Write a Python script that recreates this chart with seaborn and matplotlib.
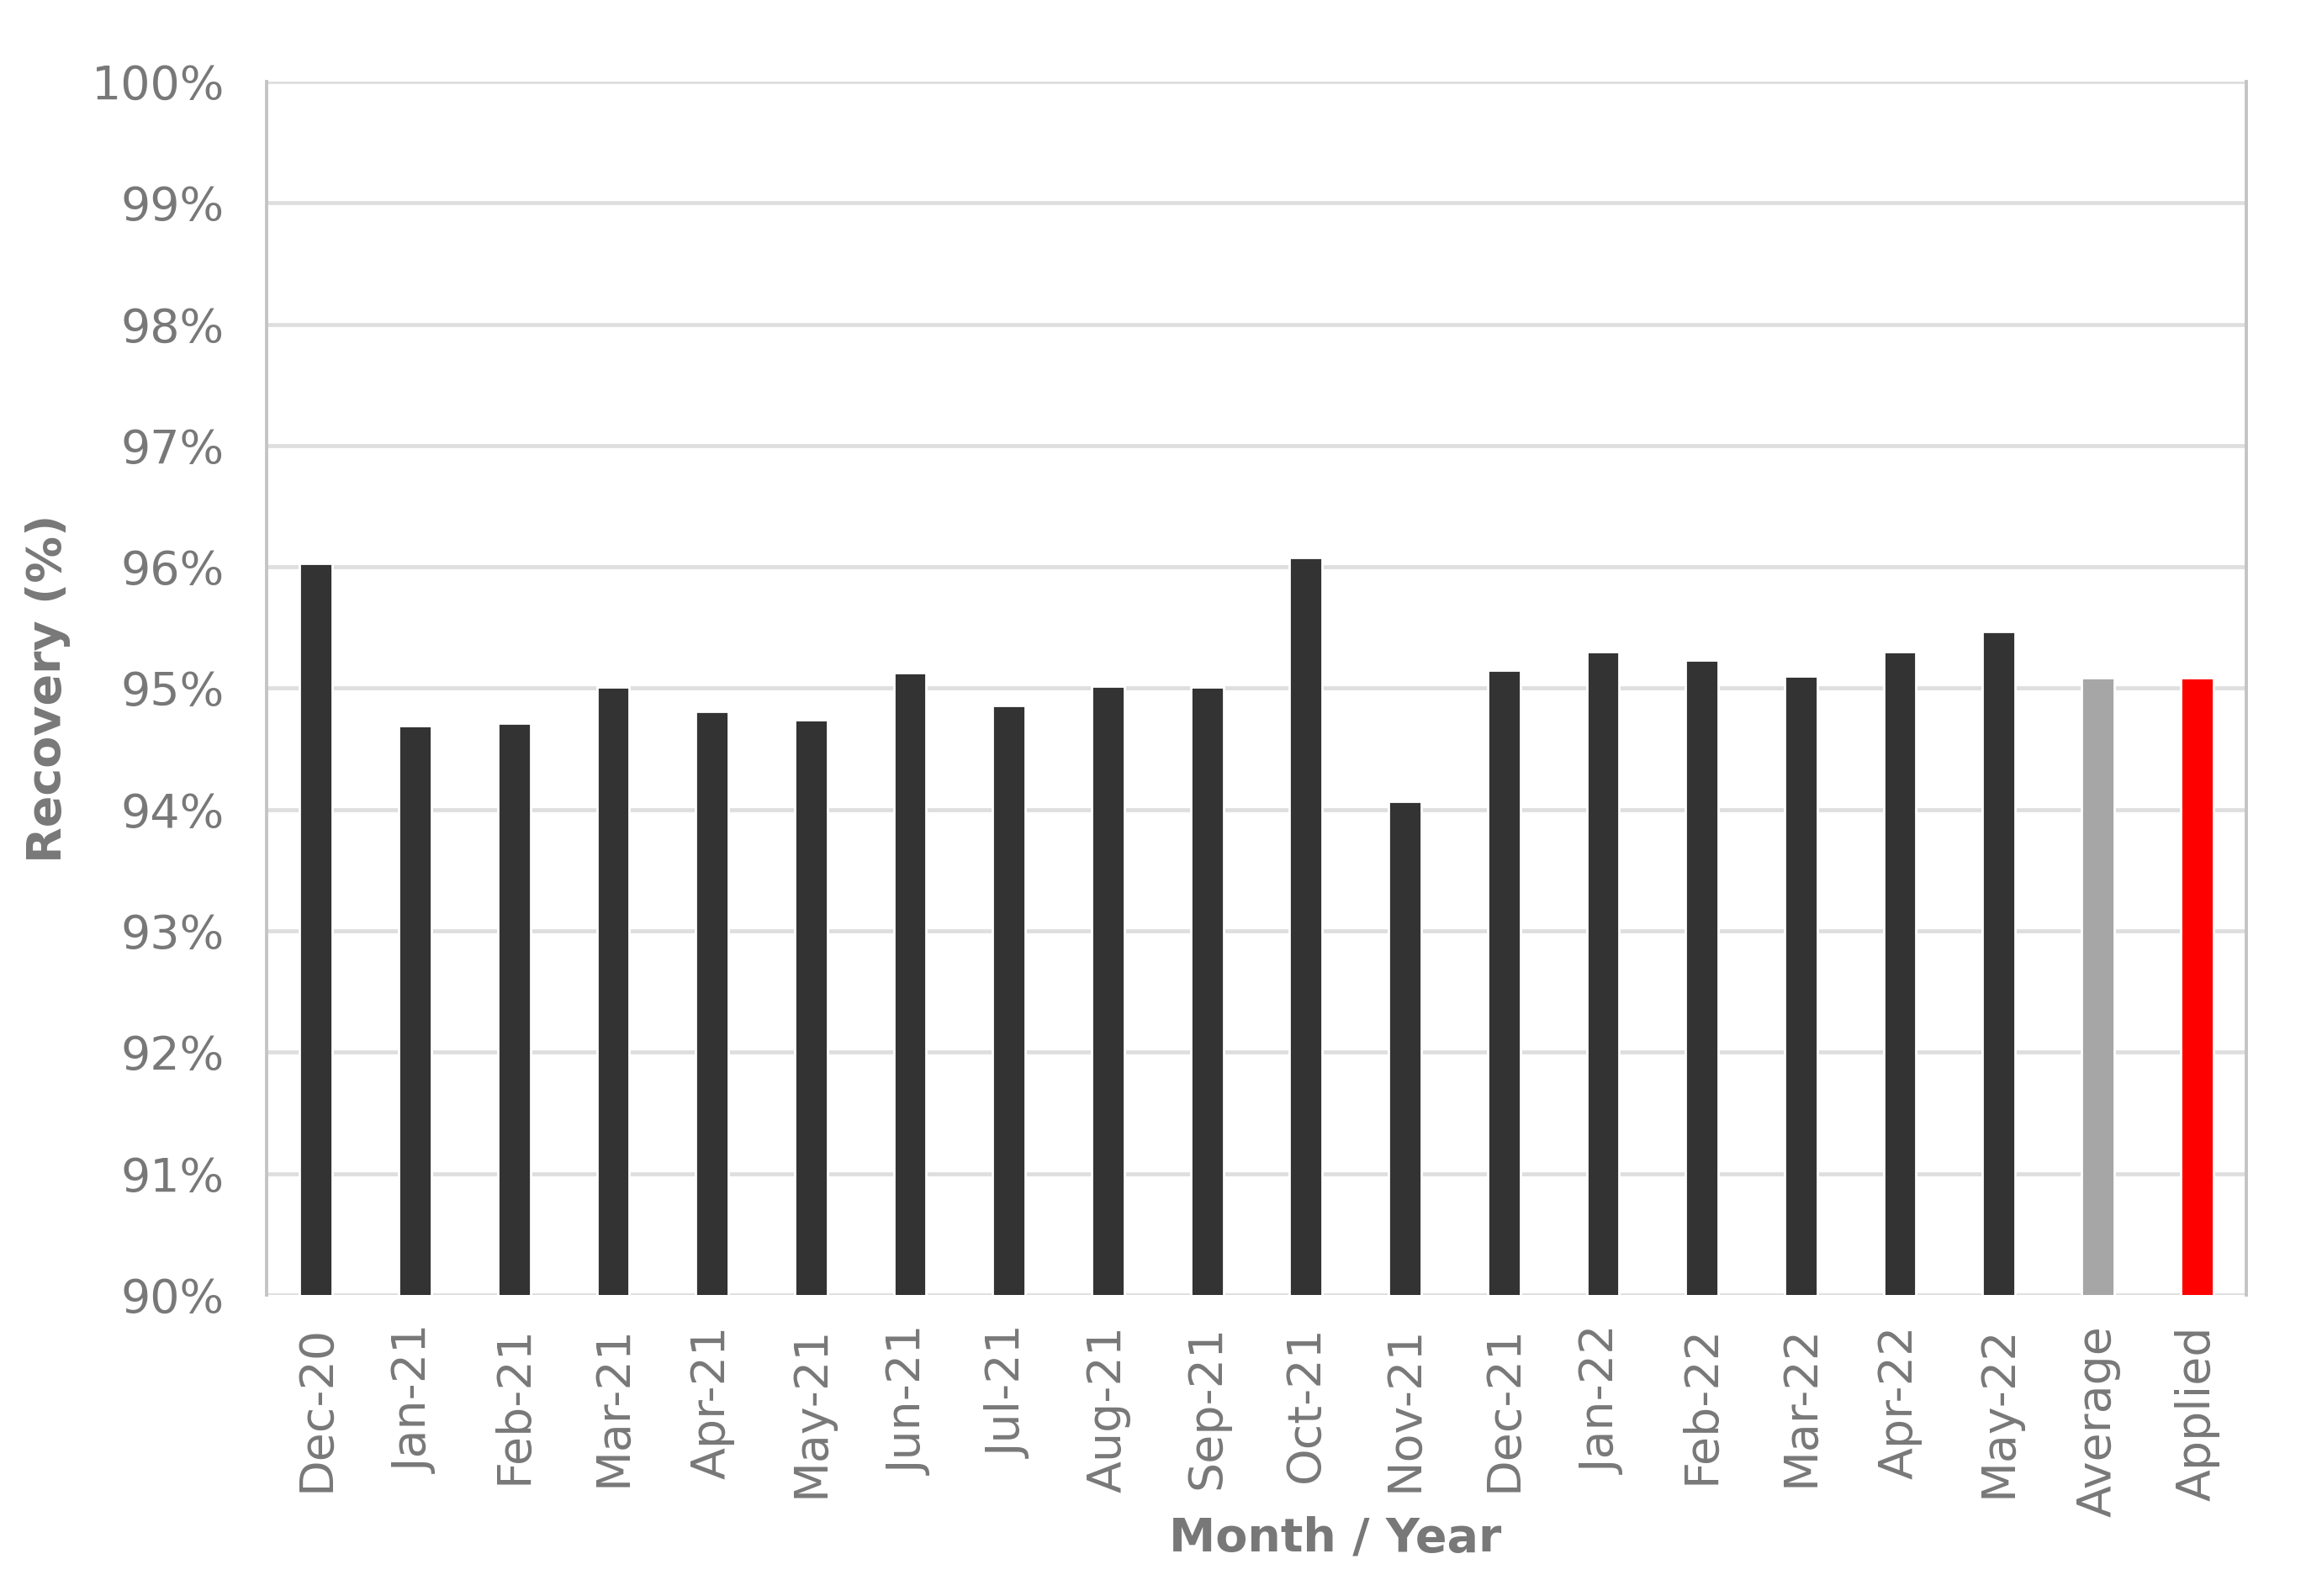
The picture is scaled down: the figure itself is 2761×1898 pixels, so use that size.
import matplotlib
matplotlib.use("Agg")
import matplotlib.pyplot as plt
import seaborn as sns
import pandas as pd
from matplotlib.ticker import FuncFormatter

categories = ["Dec-20", "Jan-21", "Feb-21", "Mar-21", "Apr-21", "May-21", "Jun-21",
              "Jul-21", "Aug-21", "Sep-21", "Oct-21", "Nov-21", "Dec-21", "Jan-22",
              "Feb-22", "Mar-22", "Apr-22", "May-22", "Average", "Applied"]
recovery = [96.03, 94.69, 94.71, 95.01, 94.81, 94.74, 95.13, 94.86, 95.02, 95.01,
            96.08, 94.07, 95.15, 95.30, 95.23, 95.10, 95.30, 95.47, 95.09, 95.09]
bar_colors = ["#333333"] * 18 + ["#a6a6a6", "#ff0000"]

df = pd.DataFrame({"Month": categories, "Recovery": recovery})

sns.set_style("white")
plt.rcParams['font.family'] = ['DejaVu Sans']

fig = plt.figure(figsize=(2761 / 200, 1898 / 200), dpi=200)
ax = fig.add_axes([317 / 2761, 1 - 1540 / 1898, (2671 - 317) / 2761, (1540 - 97) / 1898])

sns.barplot(data=df, x="Month", y="Recovery", hue="Month", palette=bar_colors,
            legend=False, width=0.33, saturation=1, ax=ax, zorder=3)

ax.set_ylim(90, 100)
ax.set_xlim(-0.5, len(categories) - 0.5)
ax.set_yticks(range(90, 101))
ax.yaxis.set_major_formatter(FuncFormatter(lambda v, p: f"{int(round(v))}%"))
ax.grid(axis="y", color="#dedede", linewidth=1.7, zorder=0)
ax.grid(axis="x", visible=False)
ax.set_axisbelow(True)

for s in ["top", "bottom"]:
    ax.spines[s].set_visible(False)
for s in ["left", "right"]:
    ax.spines[s].set_visible(True)
    ax.spines[s].set_color("#c4c4c4")
    ax.spines[s].set_linewidth(1.4)

tick_color = "#787878"
ax.tick_params(axis="y", length=0, pad=18, labelsize=20, labelcolor=tick_color)
ax.tick_params(axis="x", length=0, pad=13, labelsize=20, labelcolor=tick_color, rotation=90)

ax.set_xlabel("Month / Year", fontsize=20, fontweight="bold", color=tick_color)
ax.set_ylabel("Recovery (%)", fontsize=20, fontweight="bold", color=tick_color)
ax.xaxis.set_label_coords(0.54, -0.182)
ax.yaxis.set_label_coords(-0.099, 0.5)

fig.savefig("out.png", dpi=200, facecolor="white")
